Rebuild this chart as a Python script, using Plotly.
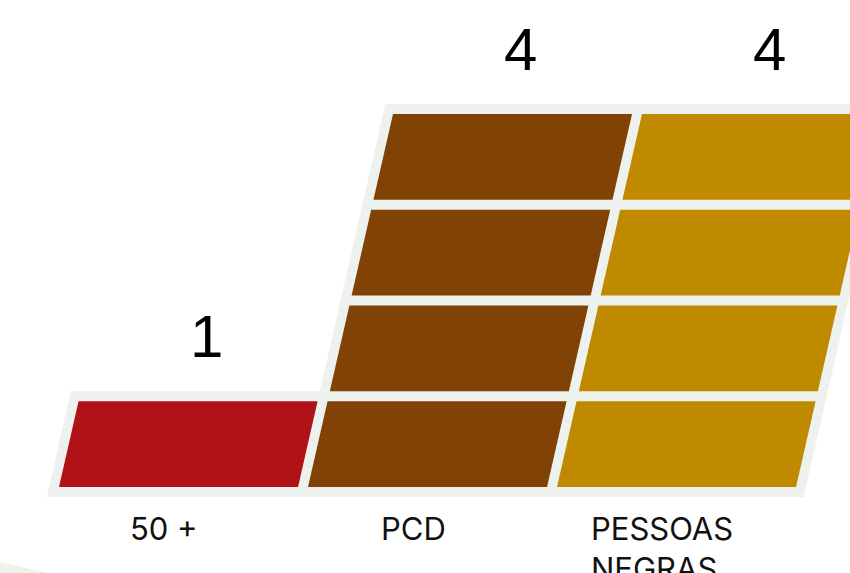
import plotly.graph_objects as go

# ---- data ----
categories = ["50 +", "PCD", "PESSOAS<br>NEGRAS"]
values = [1, 4, 4]
colors = ["#B11217", "#804205", "#C08A00"]
bg_color = "#EEF2EE"

# ---- layout constants (data units) ----
slant = 0.0876        # x shift per y unit
gap_x = 0.02          # half gap between columns (column units)
gap_y = 0.052         # half gap between stacked cells (value units)

fig = go.Figure()


def para(xl, xr, y0, y1):
    xs = [xl + slant * y0, xr + slant * y0, xr + slant * y1, xl + slant * y1, xl + slant * y0]
    ys = [y0, y0, y1, y1, y0]
    return xs, ys


# background plates
for j, v in enumerate(values):
    xs, ys = para(j - gap_x, j + 1 + gap_x, -gap_y, v + gap_y)
    fig.add_trace(go.Scatter(x=xs, y=ys, mode="lines", fill="toself",
                             fillcolor=bg_color, line=dict(width=0, color=bg_color),
                             hoverinfo="skip", showlegend=False))

# stacked unit cells
for j, v in enumerate(values):
    for k in range(v):
        xs, ys = para(j + gap_x, j + 1 - gap_x, k + gap_y, k + 1 - gap_y)
        fig.add_trace(go.Scatter(x=xs, y=ys, mode="lines", fill="toself",
                                 fillcolor=colors[j], line=dict(width=0, color=colors[j]),
                                 hoverinfo="skip", showlegend=False))

# value labels
for j, v in enumerate(values):
    yl = v + 0.625
    fig.add_annotation(x=j + 0.5 + slant * yl - 0.027, y=yl, text=str(v),
                       showarrow=False, xanchor="center", yanchor="middle",
                       font=dict(family="Liberation Sans, Arial", size=60, color="#000000"))

# category labels
for j, c in enumerate(categories):
    fig.add_annotation(x=j + 0.448, y=-0.17, text=c, showarrow=False,
                       xanchor="center", yanchor="top", align="left",
                       font=dict(family="Inter, sans-serif", size=31, color="#111111"))

# faint decorative corner
fig.add_shape(type="path", xref="paper", yref="paper",
              path="M 0 0.019 L 0.056 0 L 0 0 Z",
              fillcolor="#EEF1EC", line=dict(width=0), layer="below")

fig.update_layout(
    width=850, height=573,
    margin=dict(l=0, r=0, t=0, b=0),
    paper_bgcolor="#FFFFFF", plot_bgcolor="#FFFFFF",
    xaxis=dict(range=[-0.2124, 3.2012], visible=False, fixedrange=True),
    yaxis=dict(range=[-0.846, 5.138], visible=False, fixedrange=True),
    showlegend=False,
)

fig.write_html("out.html", config={"displayModeBar": False},
               post_script="document.body.style.margin='0';document.body.style.overflow='hidden';")
